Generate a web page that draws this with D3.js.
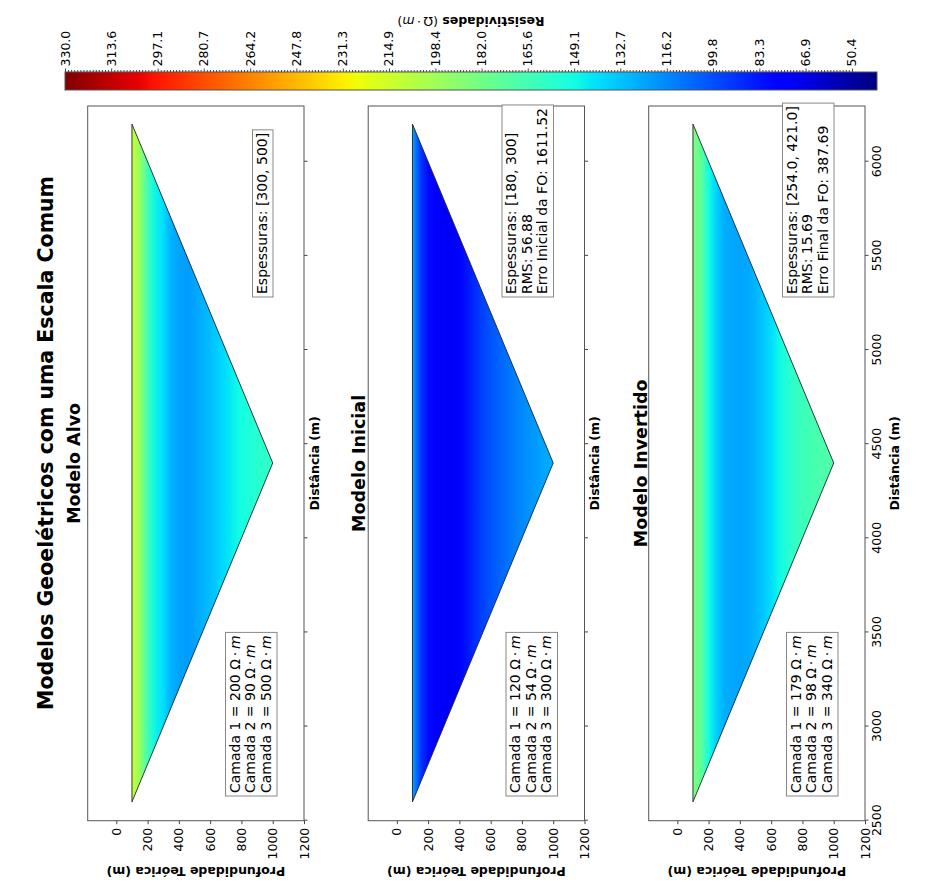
<!DOCTYPE html>
<html lang="pt">
<head>
<meta charset="UTF-8">
<script src="https://cdn.jsdelivr.net/npm/d3@7"></script>
<title>Modelos Geoelétricos com uma Escala Comum</title>
<style>
body{margin:0;background:#fff;}
svg{display:block;font-family:"DejaVu Sans",sans-serif;}
</style>
</head>
<body>
<svg id="chart"></svg>
<script>
// ---- data ----
var modelTitles = ["Modelo Alvo", "Modelo Inicial", "Modelo Invertido"];
var layerRes = [[200, 90, 500], [120, 54, 300], [179, 98, 340]];
var infoAlvo = ["Espessuras: [300, 500]"];
var infoInicial = ["Espessuras: [180, 300]", "RMS: 56.88", "Erro Inicial da FO: 1611.52"];
var infoInvertido = ["Espessuras: [254.0, 421.0]", "RMS: 15.69", "Erro Final da FO: 387.69"];

// apparent resistivity (ohm.m) vs theoretical depth, one profile per model
var profileDepth = [100, 150, 200, 250, 300, 350, 400, 450, 500, 550, 600, 650, 700, 750, 800, 850, 900, 950, 1000];
var resAlvo      = [212, 195, 165, 147, 140, 128, 124, 122, 124, 128, 131, 136, 141, 146, 150, 153, 156, 158, 160];
var resInicial   = [124, 94, 80, 74, 71, 72, 77, 83, 90, 96, 101, 105, 109, 113, 116, 119, 122, 125, 127];
var resInvertido = [186, 176, 150, 136, 127, 125, 124, 125, 129, 134, 140, 148, 154, 160, 163, 166, 168, 169, 170];

// pseudo-section outline (distance m, depth m)
var sectionDist = [2600, 6200, 4400];
var sectionDepth = [100, 100, 1000];

var distTicks = [2500, 3000, 3500, 4000, 4500, 5000, 5500, 6000];
var depthTicks = [0, 200, 400, 600, 800, 1000, 1200];
var cbarTicks = [330.0, 313.6, 297.1, 280.7, 264.2, 247.8, 231.3, 214.9, 198.4, 182.0, 165.6, 149.1, 132.7, 116.2, 99.8, 83.3, 66.9, 50.4];
var cbarRange = [41.5, 330];

var profiles = [resAlvo, resInicial, resInvertido];
var infos = [infoAlvo, infoInicial, infoInvertido];

// ---- jet colormap ----
var jetR = d3.scaleLinear().domain([0, 0.35, 0.66, 0.89, 1]).range([0, 0, 1, 1, 0.5]).clamp(true);
var jetG = d3.scaleLinear().domain([0, 0.125, 0.375, 0.64, 0.91, 1]).range([0, 0, 1, 1, 0, 0]).clamp(true);
var jetB = d3.scaleLinear().domain([0, 0.11, 0.34, 0.65, 1]).range([0.5, 1, 1, 0, 0]).clamp(true);
function jet(t) { return d3.rgb(255 * jetR(t), 255 * jetG(t), 255 * jetB(t)).formatHex(); }
var norm = d3.scaleLinear().domain(cbarRange).range([0, 1]).clamp(true);

// original (portrait) figure, drawn then turned a quarter to the left
var W = 886, H = 928;
var svg = d3.select("#chart").attr("width", H).attr("height", W);
var defs = svg.append("defs");
var fig = svg.append("g").attr("transform", "translate(0," + W + ") rotate(-90)");

var axLeft = 65.3, axW = 714.7, axH = 216.3;
var axTops = [87.7, 368.2, 648.7];
var titleBase = [80, 365, 647];

var x = d3.scaleLinear().domain([2500, 6296]).range([0, axW]);
var y = d3.scaleLinear().domain([-183, 1200]).range([0, axH]);

fig.append("text")
    .attr("x", W / 2).attr("y", 53)
    .attr("text-anchor", "middle")
    .style("font-size", "20.5px").style("font-weight", "bold")
    .text("Modelos Geoelétricos com uma Escala Comum");

function ohm(sel) {
    sel.append("tspan").text("Ω\u2009·\u2009");
    sel.append("tspan").style("font-style", "italic").text("m");
}

function textBox(g, left, bottom, lines, withUnit) {
    var lh = 15.5, pad = 2.5, padX = 3;
    var n = lines.length;
    var top = bottom - (n * lh + 2 * pad);
    var box = g.append("g");
    var rect = box.append("rect");
    var maxW = 0;
    lines.forEach(function(s, i) {
        var t = box.append("text")
            .attr("x", left + padX)
            .attr("y", top + pad + 12 + i * lh)
            .style("font-size", "14px")
            .text(s);
        if (withUnit) ohm(t);
        maxW = Math.max(maxW, t.node().getComputedTextLength());
    });
    rect.attr("x", left).attr("y", top)
        .attr("width", maxW + 2 * padX).attr("height", n * lh + 2 * pad)
        .attr("fill", "#fff").attr("stroke", "#888").attr("stroke-width", 1);
}

modelTitles.forEach(function(title, i) {
    var g = fig.append("g").attr("transform", "translate(" + axLeft + "," + axTops[i] + ")");

    // depth gradient
    var d0 = profileDepth[0], d1 = profileDepth[profileDepth.length - 1];
    var grad = defs.append("linearGradient")
        .attr("id", "grad" + i)
        .attr("gradientUnits", "userSpaceOnUse")
        .attr("x1", 0).attr("x2", 0)
        .attr("y1", y(d0)).attr("y2", y(d1));
    profileDepth.forEach(function(d, k) {
        grad.append("stop")
            .attr("offset", (y(d) - y(d0)) / (y(d1) - y(d0)))
            .attr("stop-color", jet(norm(profiles[i][k])));
    });

    g.append("polygon")
        .attr("points", sectionDist.map(function(d, k) { return x(d) + "," + y(sectionDepth[k]); }).join(" "))
        .attr("fill", "url(#grad" + i + ")")
        .attr("stroke", "#222").attr("stroke-width", 0.9);

    // axes
    var ya = g.append("g").call(d3.axisLeft(y).tickValues(depthTicks).tickSize(3.5).tickPadding(3.5).tickFormat(d3.format("d")));
    var xa = g.append("g").attr("transform", "translate(0," + axH + ")")
        .call(d3.axisBottom(x).tickValues(distTicks).tickSize(3.5).tickPadding(3.5)
            .tickFormat(i == 2 ? d3.format("d") : function() { return ""; }));
    [ya, xa].forEach(function(a) {
        a.select(".domain").remove();
        a.attr("font-family", null).attr("font-size", null);
        a.selectAll("line").attr("stroke", "#444");
        a.selectAll("text").style("font-size", "12.5px").attr("fill", "#000");
    });

    g.append("rect")
        .attr("width", axW).attr("height", axH)
        .attr("fill", "none").attr("stroke", "#555").attr("stroke-width", 1);

    g.append("text")
        .attr("x", axW / 2).attr("y", titleBase[i] - axTops[i])
        .attr("text-anchor", "middle")
        .style("font-size", "17.5px").style("font-weight", "bold")
        .text(title);

    g.append("text")
        .attr("x", axW / 2).attr("y", i == 2 ? axH + 34 : axH + 15)
        .attr("text-anchor", "middle")
        .style("font-size", "12.5px").style("font-weight", "bold")
        .text("Distância (m)");

    g.append("text")
        .attr("transform", "translate(" + (19 - axLeft) + "," + axH / 2 + ") rotate(-90)")
        .attr("text-anchor", "middle")
        .style("font-size", "12.5px").style("font-weight", "bold")
        .text("Profundidade Teórica (m)");

    textBox(g, 24.7, axH - 27, layerRes[i].map(function(r, k) {
        return "Camada " + (k + 1) + " = " + r + " ";
    }), true);
    textBox(g, 523.7, axH - 31, infos[i], false);
});

// ---- colorbar ----
var cbX = 796, cbY = 65, cbW = 18, cbH = 812;
var c = d3.scaleLinear().domain([cbarRange[1], cbarRange[0]]).range([0, cbH]);
var cgrad = defs.append("linearGradient").attr("id", "cbar")
    .attr("x1", 0).attr("x2", 0).attr("y1", 0).attr("y2", 1);
d3.range(0, 101).forEach(function(k) {
    cgrad.append("stop").attr("offset", k / 100).attr("stop-color", jet(1 - k / 100));
});
var cb = fig.append("g").attr("transform", "translate(" + cbX + "," + cbY + ")");
cb.append("rect").attr("width", cbW).attr("height", cbH)
    .attr("fill", "url(#cbar)").attr("stroke", "#555").attr("stroke-width", 1);

var minor = [];
for (var k = 0; k < cbarTicks.length - 1; k++) {
    var step = (cbarTicks[k] - cbarTicks[k + 1]) / 15;
    for (var m = 1; m < 15; m++) minor.push(cbarTicks[k] - m * step);
}
var cbMinor = cb.append("g").attr("transform", "translate(" + cbW + ",0)")
    .call(d3.axisRight(c).tickValues(minor).tickSize(2).tickFormat(""));
var cbAxis = cb.append("g").attr("transform", "translate(" + cbW + ",0)")
    .call(d3.axisRight(c).tickValues(cbarTicks).tickSize(3.5).tickPadding(2).tickFormat(d3.format(".1f")));
[cbMinor, cbAxis].forEach(function(a) {
    a.select(".domain").remove();
    a.attr("font-family", null).attr("font-size", null);
    a.selectAll("line").attr("stroke", "#444");
    a.selectAll("text").style("font-size", "12.5px").attr("fill", "#000");
});

var cl = cb.append("text")
    .attr("transform", "translate(" + (869 - cbX) + "," + (471 - cbY) + ") rotate(-90)")
    .attr("text-anchor", "middle")
    .style("font-size", "12.5px");
cl.append("tspan").style("font-weight", "bold").text("Resistividades ");
cl.append("tspan").text("(");
ohm(cl);
cl.append("tspan").text(")");
</script>
</body>
</html>
